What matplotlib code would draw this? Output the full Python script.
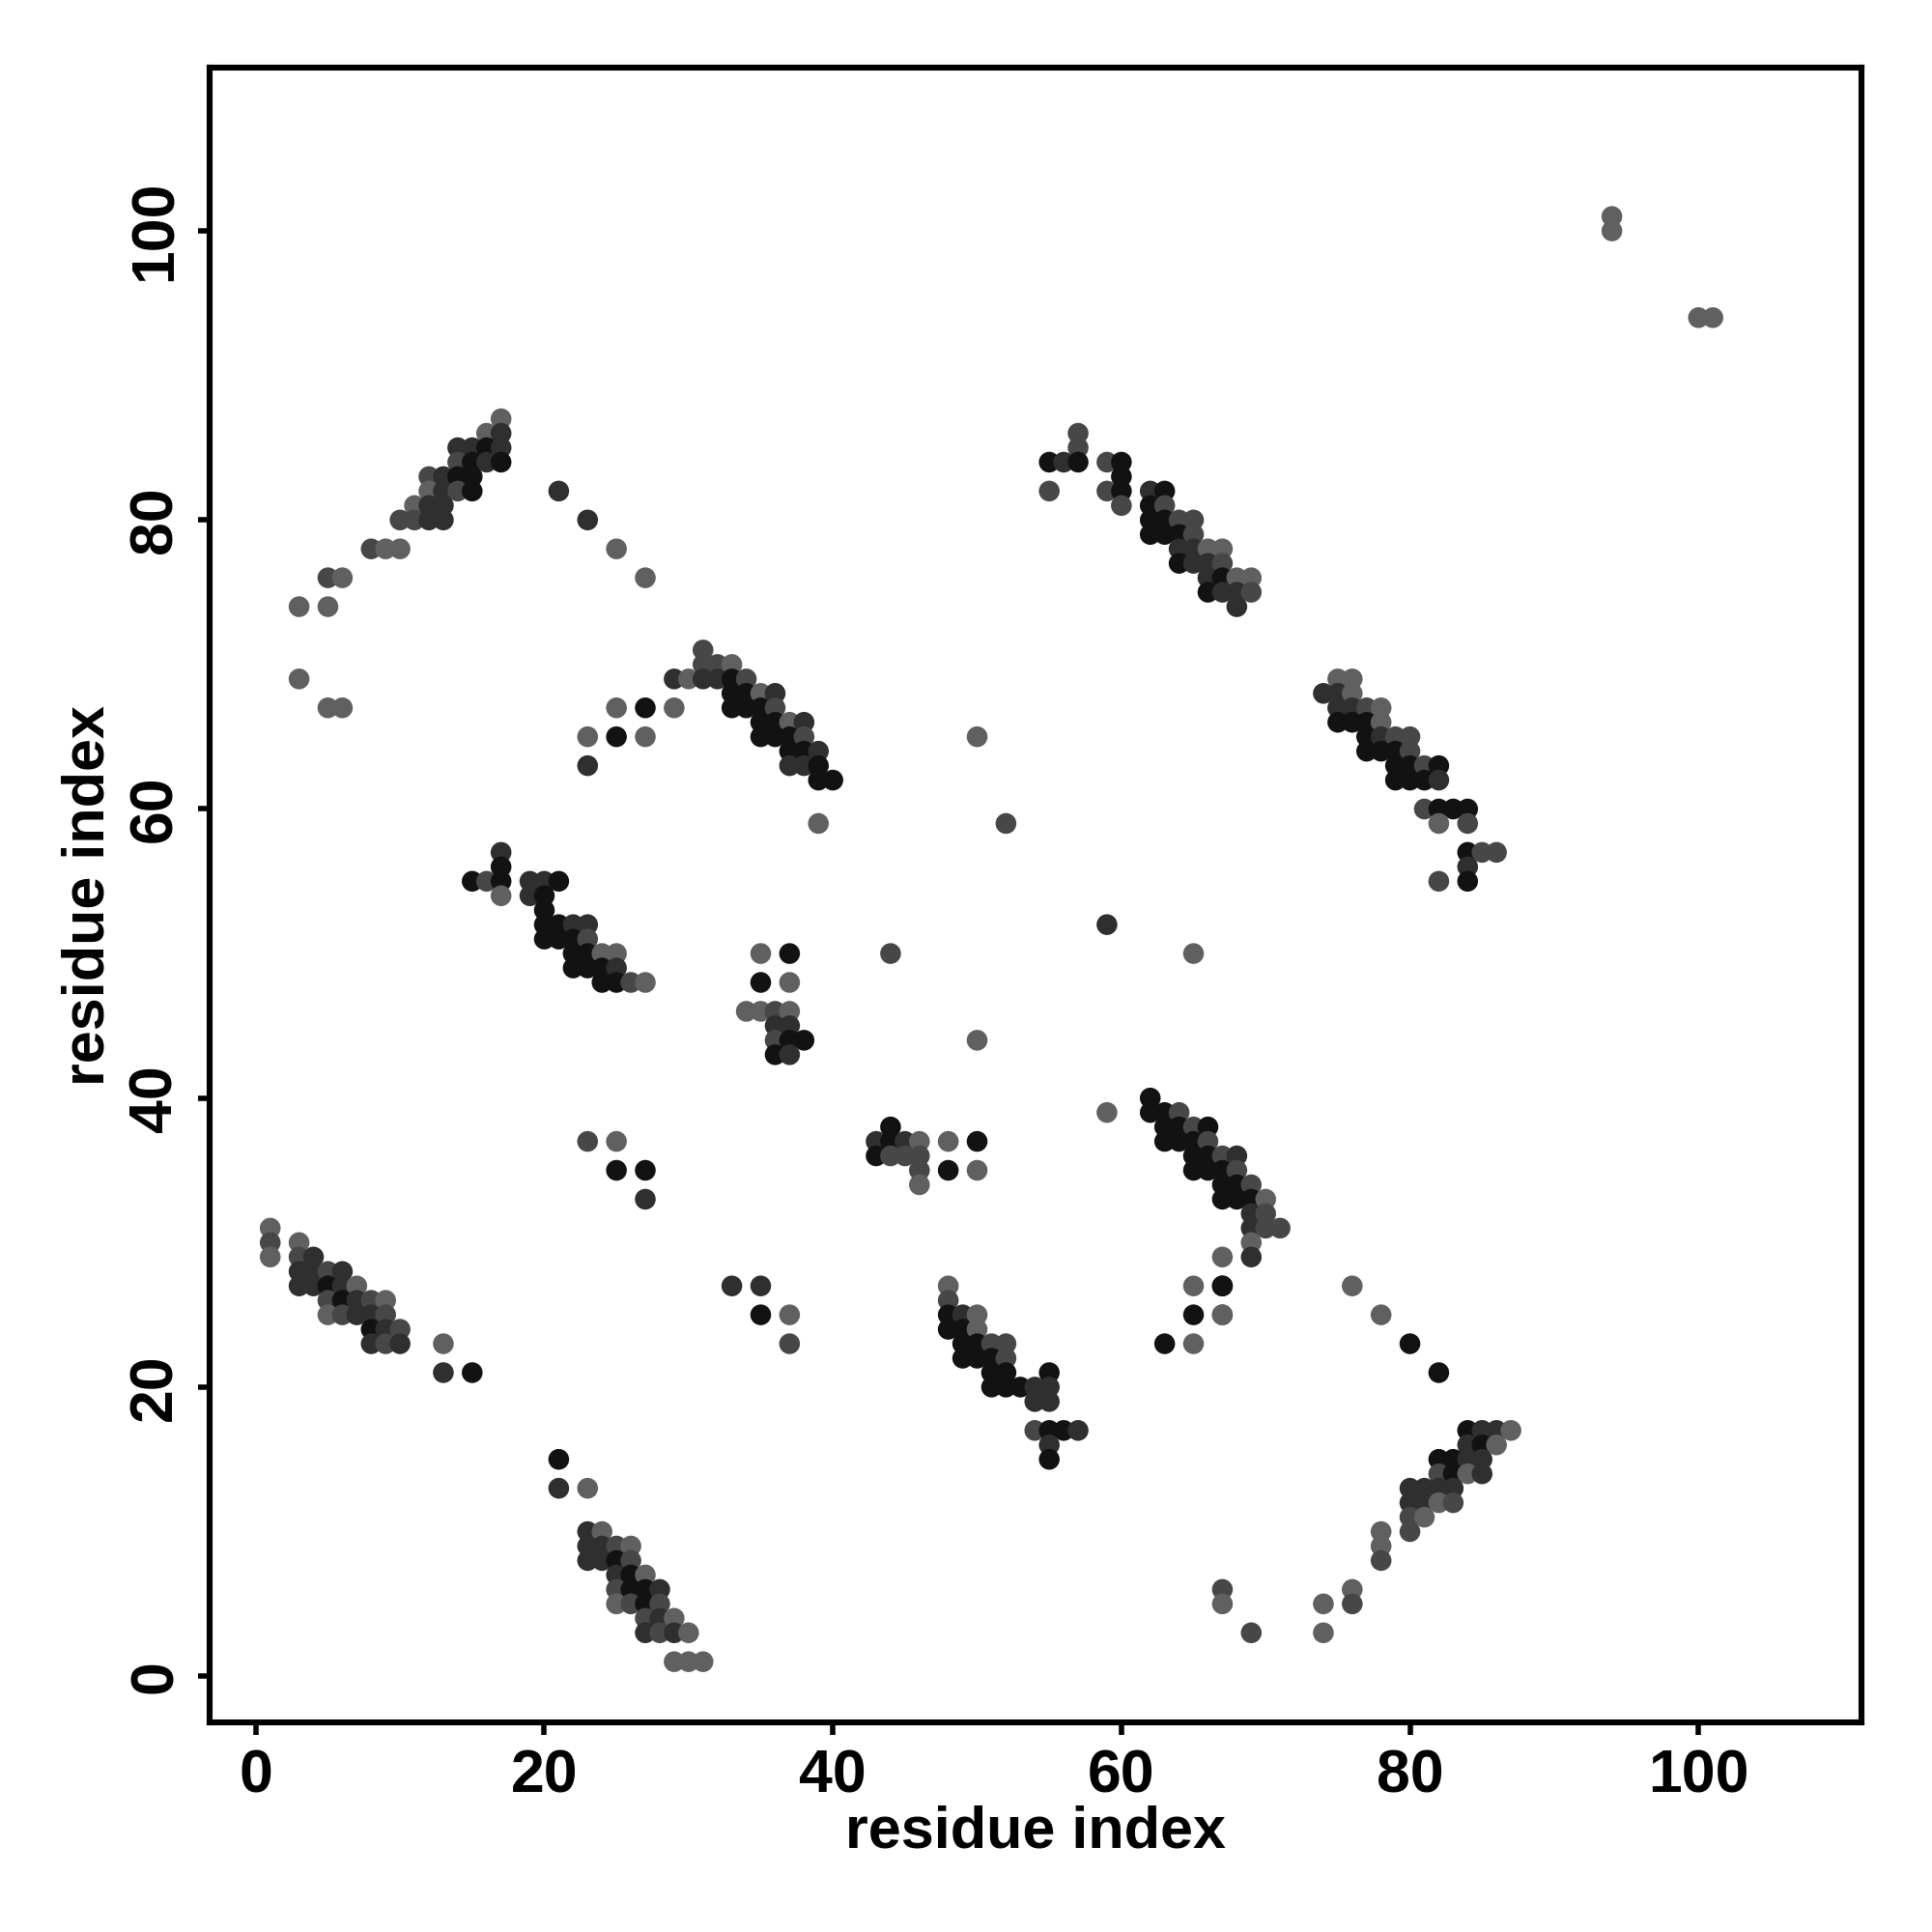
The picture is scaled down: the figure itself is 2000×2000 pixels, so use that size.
import matplotlib
matplotlib.use("Agg")
import matplotlib.pyplot as plt

# gray shade per contact: k = near black ... l = light gray
SHADES = {"k": "#121212", "d": "#2f2f2f", "m": "#474747", "l": "#606060"}

strand_a = [(1,31,"l"),(1,30,"m"),(1,29,"l"),(3,30,"l"),(3,29,"m"),(4,29,"d"),
            (3,28,"d"),(4,28,"d"),(5,28,"m"),(6,28,"d"),(3,27,"d"),(4,27,"d"),
            (5,27,"k"),(6,27,"d"),(7,27,"l"),(5,26,"m"),(6,26,"k"),(7,26,"d"),
            (8,26,"m"),(9,26,"l"),(5,25,"l"),(6,25,"m"),(7,25,"d"),(8,25,"d"),
            (9,25,"m"),(8,24,"k"),(9,24,"d"),(10,24,"m"),(8,23,"d"),(9,23,"m"),
            (10,23,"d"),(13,23,"l"),(13,21,"d"),(15,21,"k")]

strand_b = [(21,15,"k"),(21,13,"d"),(23,13,"l"),(23,10,"d"),(24,10,"l"),
            (23,9,"d"),(24,9,"d"),(25,9,"m"),(26,9,"l"),(23,8,"d"),(24,8,"d"),
            (25,8,"k"),(26,8,"m"),(25,7,"d"),(26,7,"k"),(27,7,"l"),(25,6,"m"),
            (26,6,"k"),(27,6,"k"),(28,6,"d"),(25,5,"l"),(26,5,"m"),(27,5,"k"),
            (28,5,"m"),(27,4,"m"),(28,4,"d"),(29,4,"l"),(27,3,"d"),(28,3,"m"),
            (29,3,"d"),(30,3,"l"),(29,1,"l"),(30,1,"l"),(31,1,"l")]

strand_c = [(17,87,"l"),(16,86,"l"),(17,86,"d"),(14,85,"d"),(15,85,"d"),
            (16,85,"k"),(17,85,"d"),(14,84,"m"),(15,84,"k"),(16,84,"d"),
            (17,84,"k"),(12,83,"m"),(13,83,"d"),(14,83,"k"),(15,83,"k"),
            (12,82,"l"),(13,82,"d"),(14,82,"m"),(15,82,"k"),(11,81,"l"),
            (12,81,"d"),(13,81,"d"),(10,80,"m"),(11,80,"m"),(12,80,"d"),
            (13,80,"d"),(8,78,"m"),(9,78,"l"),(10,78,"l"),(5,76,"m"),(6,76,"l"),
            (3,74,"l"),(5,74,"l"),(3,69,"l"),(5,67,"l"),(6,67,"l"),
            (21,82,"d"),(23,80,"d"),(25,78,"l"),(27,76,"l")]

strand_d = [(17,57,"d"),(17,56,"k"),(15,55,"k"),(16,55,"m"),(17,55,"k"),
            (19,55,"d"),(20,55,"d"),(21,55,"k"),(17,54,"l"),(19,54,"d"),
            (20,54,"k"),(20,53,"k"),(20,52,"k"),(21,52,"k"),(22,52,"d"),
            (23,52,"d"),(20,51,"k"),(21,51,"k"),(22,51,"k"),(23,51,"m"),
            (22,50,"k"),(23,50,"k"),(24,50,"l"),(25,50,"l"),(22,49,"k"),
            (23,49,"k"),(24,49,"k"),(25,49,"d"),(24,48,"k"),(25,48,"k"),
            (26,48,"m"),(27,48,"l")]

strand_e = [(31,71,"m"),(31,70,"m"),(32,70,"m"),(33,70,"l"),(29,69,"d"),
            (30,69,"l"),(31,69,"d"),(32,69,"d"),(33,69,"k"),(34,69,"m"),
            (33,68,"k"),(34,68,"k"),(35,68,"l"),(36,68,"d"),(25,67,"l"),
            (27,67,"k"),(29,67,"l"),(33,67,"k"),(34,67,"k"),(35,67,"k"),
            (36,67,"m"),(35,66,"k"),(36,66,"k"),(37,66,"l"),(38,66,"d"),
            (23,65,"l"),(25,65,"k"),(27,65,"l"),(35,65,"k"),(36,65,"k"),
            (37,65,"k"),(38,65,"m"),(37,64,"k"),(38,64,"k"),(39,64,"d"),
            (23,63,"d"),(37,63,"d"),(38,63,"d"),(39,63,"k"),(39,62,"k"),
            (40,62,"k"),(39,59,"l")]

strand_f = [(35,50,"l"),(37,50,"k"),(35,48,"k"),(37,48,"l"),(34,46,"l"),
            (35,46,"l"),(36,46,"m"),(37,46,"l"),(36,45,"d"),(37,45,"d"),
            (36,44,"m"),(37,44,"k"),(38,44,"k"),(36,43,"k"),(37,43,"d"),
            (23,37,"m"),(25,37,"l"),(25,35,"k"),(27,35,"k"),(27,33,"d"),
            (33,27,"d"),(35,27,"d"),(35,25,"k"),(37,25,"l"),(37,23,"m")]

strand_g = [(44,38,"k"),(43,37,"d"),(44,37,"k"),(45,37,"d"),(46,37,"l"),
            (48,37,"l"),(50,37,"k"),(43,36,"k"),(44,36,"m"),(45,36,"m"),
            (46,36,"m"),(46,35,"m"),(48,35,"k"),(50,35,"l"),(46,34,"l"),
            (48,27,"l"),(48,26,"m"),(48,25,"k"),(49,25,"d"),(50,25,"l"),
            (48,24,"k"),(49,24,"k"),(50,24,"l"),(49,23,"k"),(50,23,"k"),
            (51,23,"m"),(52,23,"m"),(49,22,"k"),(50,22,"k"),(51,22,"k"),
            (52,22,"m"),(51,21,"k"),(52,21,"k"),(55,21,"k"),(51,20,"k"),
            (52,20,"k"),(53,20,"k"),(54,20,"d"),(55,20,"d"),(54,19,"d"),
            (55,19,"d"),(54,17,"m"),(55,17,"k"),(56,17,"k"),(57,17,"d"),
            (55,16,"d"),(55,15,"k")]

strand_h = [(62,40,"k"),(59,39,"l"),(62,39,"k"),(63,39,"k"),(64,39,"m"),
            (63,38,"k"),(64,38,"k"),(65,38,"m"),(66,38,"k"),(63,37,"k"),
            (64,37,"k"),(65,37,"k"),(66,37,"m"),(65,36,"k"),(66,36,"k"),
            (67,36,"m"),(68,36,"d"),(65,35,"k"),(66,35,"k"),(67,35,"k"),
            (68,35,"m"),(67,34,"k"),(68,34,"k"),(69,34,"m"),(67,33,"k"),
            (68,33,"k"),(69,33,"k"),(70,33,"l"),(69,32,"d"),(70,32,"m"),
            (69,31,"d"),(70,31,"m"),(71,31,"m"),(69,30,"l"),(67,29,"l"),
            (69,29,"d"),(65,27,"l"),(67,27,"k"),(65,25,"k"),(67,25,"m"),
            (63,23,"k"),(65,23,"l")]

strand_i = [(57,86,"m"),(57,85,"m"),(55,84,"k"),(56,84,"d"),(57,84,"k"),
            (59,84,"m"),(60,84,"k"),(60,83,"k"),(55,82,"m"),(59,82,"m"),
            (60,82,"k"),(60,81,"m"),(62,82,"d"),(63,82,"k"),(62,81,"k"),
            (63,81,"m"),(62,80,"k"),(63,80,"k"),(64,80,"m"),(65,80,"m"),
            (62,79,"k"),(63,79,"k"),(64,79,"k"),(65,79,"m"),(64,78,"d"),
            (65,78,"d"),(66,78,"l"),(67,78,"l"),(64,77,"k"),(65,77,"d"),
            (66,77,"d"),(67,77,"m"),(66,76,"d"),(67,76,"k"),(68,76,"l"),
            (69,76,"l"),(66,75,"k"),(67,75,"d"),(68,75,"d"),(69,75,"m"),
            (68,74,"d")]

strand_j = [(75,69,"l"),(76,69,"l"),(74,68,"d"),(75,68,"d"),(76,68,"l"),
            (75,67,"d"),(76,67,"d"),(77,67,"m"),(78,67,"l"),(75,66,"k"),
            (76,66,"k"),(77,66,"k"),(78,66,"l"),(77,65,"k"),(78,65,"d"),
            (79,65,"m"),(80,65,"m"),(77,64,"k"),(78,64,"k"),(79,64,"k"),
            (80,64,"m"),(79,63,"k"),(80,63,"k"),(81,63,"m"),(82,63,"k"),
            (79,62,"k"),(80,62,"k"),(81,62,"k"),(82,62,"d"),(81,60,"m"),
            (82,60,"k"),(83,60,"k"),(84,60,"k"),(82,59,"l"),(84,59,"m"),
            (84,57,"k"),(85,57,"m"),(86,57,"m"),(84,56,"d"),(82,55,"m"),
            (84,55,"k")]

strand_k = [(67,27,"k"),(76,27,"l"),(67,25,"l"),(78,25,"l"),(80,23,"k"),
            (82,21,"k"),(84,17,"k"),(85,17,"d"),(86,17,"d"),(87,17,"l"),
            (84,16,"d"),(85,16,"k"),(86,16,"l"),(82,15,"k"),(83,15,"k"),
            (84,15,"d"),(85,15,"d"),(82,14,"m"),(83,14,"k"),(84,14,"l"),
            (85,14,"d"),(80,13,"d"),(81,13,"d"),(82,13,"d"),(83,13,"d"),
            (80,12,"d"),(81,12,"d"),(82,12,"l"),(83,12,"m"),(80,11,"m"),
            (81,11,"l"),(78,10,"l"),(80,10,"m"),(78,9,"l"),(78,8,"m"),
            (67,6,"m"),(76,6,"l"),(67,5,"l"),(74,5,"l"),(76,5,"m"),
            (69,3,"m"),(74,3,"l")]

singles = [(94,101,"l"),(94,100,"l"),(100,94,"l"),(101,94,"l"),(50,65,"l"),
           (52,59,"m"),(44,50,"m"),(59,52,"d"),(65,50,"l"),(50,44,"l")]

groups = [strand_a, strand_b, strand_c, strand_d, strand_e, strand_f,
          strand_g, strand_h, strand_i, strand_j, strand_k, singles]

plt.rcParams['font.family'] = ['Liberation Sans', 'DejaVu Sans']
plt.rcParams['font.weight'] = 'bold'

fig = plt.figure(figsize=(10, 10), dpi=200)
ax = fig.add_axes([0.1085, 0.1085, 0.855, 0.8565])

for g in groups:
    xs = [p[0] for p in g]
    ys = [p[1] for p in g]
    cs = [SHADES[p[2]] for p in g]
    ax.scatter(xs, ys, s=60, c=cs, linewidths=0, zorder=2)

ax.set_xlim(-3.2, 111.3)
ax.set_ylim(-3.2, 111.3)
ax.set_xticks(range(0, 101, 20))
ax.set_yticks(range(0, 101, 20))
ax.tick_params(axis='both', direction='out', length=4.5, width=2,
               labelsize=22.5, pad=5)
for lab in ax.get_yticklabels():
    lab.set_rotation(90)
    lab.set_va('center')
for lab in ax.get_xticklabels() + ax.get_yticklabels():
    lab.set_fontweight('bold')
for sp in ax.spines.values():
    sp.set_linewidth(2.2)

ax.set_xlabel('residue index', fontsize=22, fontweight='bold', labelpad=0)
ax.set_ylabel('residue index', fontsize=22, fontweight='bold', labelpad=4)

fig.savefig('out.png', dpi=200, facecolor='white')
